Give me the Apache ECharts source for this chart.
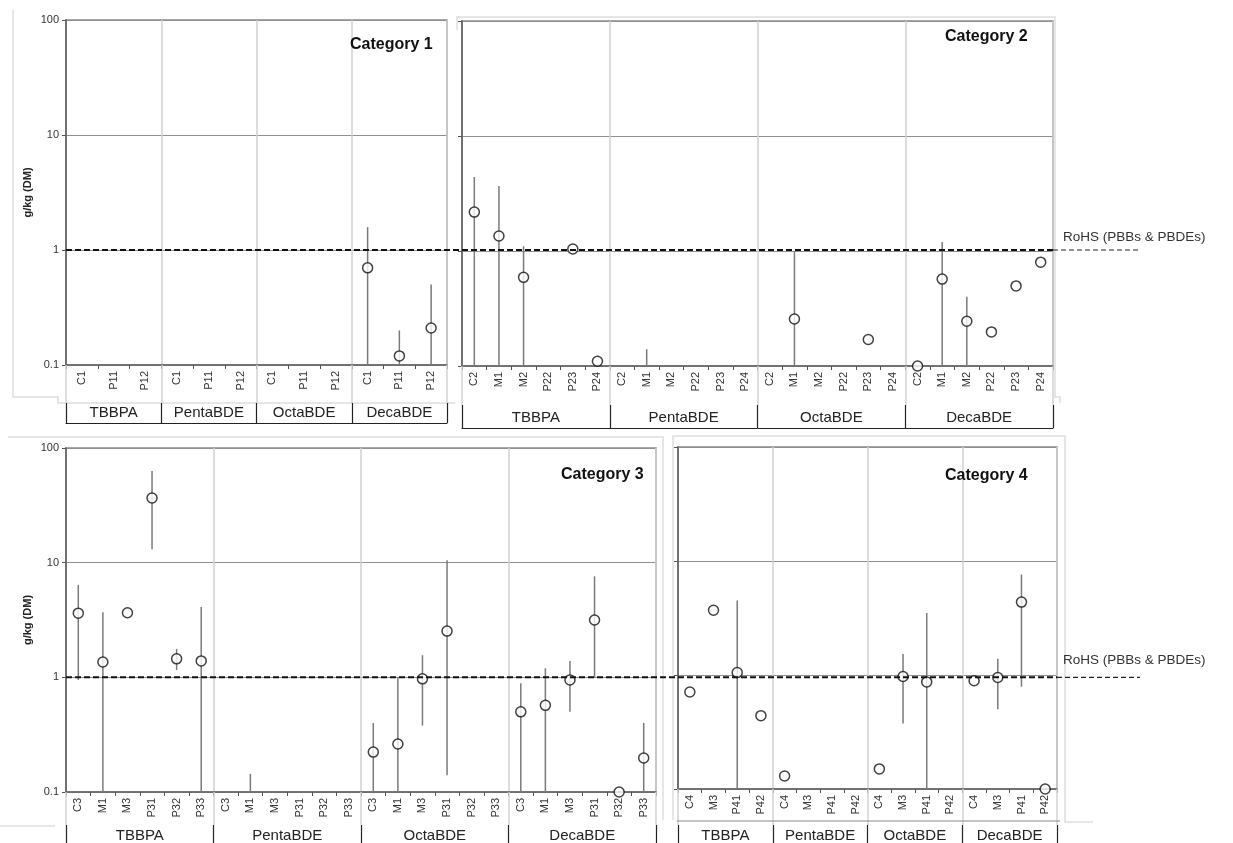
<!DOCTYPE html>
<html><head><meta charset="utf-8">
<script src="https://cdn.jsdelivr.net/npm/echarts@6/dist/echarts.min.js"></script>
<style>html,body{margin:0;padding:0;background:#fff}#c{width:1233px;height:843px}</style>
</head><body><div id="c"></div>
<script>
// ---------- DATA ----------
const groups = ['TBBPA', 'PentaBDE', 'OctaBDE', 'DecaBDE'];
const samples1 = ['C1', 'P11', 'P12'];
const samples2 = ['C2', 'M1', 'M2', 'P22', 'P23', 'P24'];
const samples3 = ['C3', 'M1', 'M3', 'P31', 'P32', 'P33'];
const samples4 = ['C4', 'M3', 'P41', 'P42'];
const rohsLimit = 1;
const rohsLabel = 'RoHS (PBBs & PBDEs)';
const yAxisName = 'g/kg (DM)';
const panelTitles = ['Category 1', 'Category 2', 'Category 3', 'Category 4'];

// Category 1 (order: TBBPA, PentaBDE, OctaBDE, DecaBDE; samples C1,P11,P12)
const cat1Values = [null, null, null, null, null, null, null, null, null, 0.70, 0.12, 0.21];
const cat1Low    = [null, null, null, null, null, null, null, null, null, 0.1, 0.1, 0.1];
const cat1High   = [null, null, null, null, null, null, null, null, null, 1.58, 0.20, 0.50];

// Category 2 (samples C2,M1,M2,P22,P23,P24)
const cat2Values = [2.18, 1.35, 0.59, null, 1.04, 0.11,
                    null, null, null, null, null, null,
                    null, 0.256, null, null, 0.17, null,
                    0.1, 0.57, 0.245, 0.198, 0.497, 0.80];
const cat2Low    = [0.1, 0.1, 0.1, null, null, null,
                    null, 0.1, null, null, null, null,
                    null, 0.1, null, null, null, null,
                    null, 0.1, 0.1, null, null, null];
const cat2High   = [4.4, 3.67, 1.1, null, null, null,
                    null, 0.14, null, null, null, null,
                    null, 1.0, null, null, null, null,
                    null, 1.2, 0.4, null, null, null];

// Category 3 (samples C3,M1,M3,P31,P32,P33)
const cat3Values = [3.63, 1.36, 3.66, 36.6, 1.45, 1.39,
                    null, null, null, null, null, null,
                    0.223, 0.262, 0.97, 2.53, null, null,
                    0.50, 0.57, 0.95, 3.16, 0.1, 0.198];
const cat3Low    = [0.95, 0.1, null, 13.1, 1.16, 0.1,
                    null, 0.1, null, null, null, null,
                    0.1, 0.1, 0.38, 0.14, null, null,
                    0.1, 0.1, 0.5, 1.0, null, 0.1];
const cat3High   = [6.4, 3.7, null, 63, 1.77, 4.1,
                    null, 0.144, null, null, null, null,
                    0.4, 1.0, 1.56, 10.5, null, null,
                    0.89, 1.2, 1.39, 7.6, null, 0.4];

// Category 4 (samples C4,M3,P41,P42)
const cat4Values = [0.71, 3.7, 1.05, 0.44,
                    0.13, null, null, null,
                    0.15, 0.97, 0.87, null,
                    0.89, 0.95, 4.36, 0.1];
const cat4Low    = [null, null, 0.1, null,
                    null, null, null, null,
                    null, 0.376, 0.1, null,
                    null, 0.5, 0.79, null];
const cat4High   = [null, null, 4.5, null,
                    null, null, null, null,
                    null, 1.53, 3.5, null,
                    null, 1.39, 7.6, null];

// ---------- LAYOUT ----------
const FONT = 'Liberation Sans, Arial, sans-serif';
const panels = [
  { samples: samples1, values: cat1Values, low: cat1Low, high: cat1High,
    grid: { left: 66, top: 20, width: 381, height: 345 }, showY: true,
    box: { offset: 58, len: 20, inside: true, line: true } },
  { samples: samples2, values: cat2Values, low: cat2Low, high: cat2High,
    grid: { left: 462, top: 21, width: 591, height: 345 }, showY: false,
    box: { offset: 62, len: 23, inside: true, line: true } },
  { samples: samples3, values: cat3Values, low: cat3Low, high: cat3High,
    grid: { left: 66, top: 448, width: 590, height: 344 }, showY: true,
    box: { offset: 33, len: 20, inside: false, line: false } },
  { samples: samples4, values: cat4Values, low: cat4Low, high: cat4High,
    grid: { left: 678, top: 447, width: 379, height: 344 }, showY: false,
    box: { offset: 36, len: 20, inside: false, line: false } }
];

const grids = [], xMain = [], xSep = [], xBox = [], yAxes = [], series = [];
panels.forEach((p, i) => {
  grids.push(Object.assign({ show: true, borderColor: '#8a8a8a', borderWidth: 1.5, containLabel: false }, p.grid));
  const cats = [];
  groups.forEach(g => p.samples.forEach(s => cats.push(g + '|' + s)));
  xMain.push({
    type: 'category', gridIndex: i, position: 'bottom', data: cats, boundaryGap: true,
    axisLine: { show: true, lineStyle: { color: '#666', width: 1.5 } },
    axisTick: { show: true, length: 4, interval: 0, lineStyle: { color: '#555', width: 1 } },
    axisLabel: { show: true, interval: 0, rotate: 90, margin: 6, fontSize: 11, color: '#333', fontFamily: FONT,
                 formatter: v => v.split('|')[1] },
    splitLine: { show: false }
  });
  const sepLen = p.box.inside ? (p.box.offset - p.box.len) : p.box.offset;
  xSep.push({
    type: 'category', gridIndex: i, position: 'bottom', data: groups, boundaryGap: true,
    axisLine: { show: false },
    axisTick: { show: true, length: sepLen, interval: 0, lineStyle: { color: '#d4d4d4', width: 1.5 } },
    axisLabel: { show: false },
    splitLine: { show: true, interval: 0, lineStyle: { color: '#d0d0d0', width: 1.5 } }
  });
  xBox.push({
    type: 'category', gridIndex: i, position: 'bottom', offset: p.box.offset, data: groups, boundaryGap: true,
    axisLine: { show: p.box.line, lineStyle: { color: '#222', width: 1 } },
    axisTick: { show: true, inside: p.box.inside, length: p.box.len, interval: 0, lineStyle: { color: '#222', width: 1.2 } },
    axisLabel: { show: true, inside: p.box.inside, interval: 0, margin: 3, fontSize: 15, color: '#222', fontFamily: FONT },
    splitLine: { show: false }
  });
  yAxes.push({
    type: 'log', logBase: 10, gridIndex: i, min: 0.1, max: 100,
    name: p.showY ? yAxisName : '', nameLocation: 'middle', nameGap: 33, nameRotate: 90,
    nameTextStyle: { fontSize: 11, fontWeight: 'bold', color: '#222', fontFamily: FONT },
    axisLine: { show: true, lineStyle: { color: '#555', width: 1.5 } },
    axisTick: { show: true, length: 4, lineStyle: { color: '#555' } },
    axisLabel: { show: p.showY, fontSize: 11, color: '#333', margin: 7, fontFamily: FONT,
                 formatter: v => String(v) },
    splitLine: { show: true, lineStyle: { color: '#8f8f8f', width: 1 } }
  });
  const errData = [], ptData = [];
  p.values.forEach((v, k) => {
    if (p.low[k] != null && p.high[k] != null) errData.push([k, p.low[k], p.high[k]]);
    if (v != null) ptData.push([k, v]);
  });
  series.push({
    type: 'custom', xAxisIndex: i, yAxisIndex: i, data: errData, z: 3, clip: false,
    encode: { x: 0, y: [1, 2] },
    renderItem: (params, api) => {
      const a = api.coord([api.value(0), api.value(1)]);
      const b = api.coord([api.value(0), api.value(2)]);
      return { type: 'line', shape: { x1: a[0], y1: a[1], x2: b[0], y2: b[1] },
               style: { stroke: '#7a7a7a', lineWidth: 1.5 } };
    }
  });
  series.push({
    type: 'scatter', xAxisIndex: i, yAxisIndex: i, data: ptData, z: 5, clip: false,
    symbol: 'circle', symbolSize: 10,
    itemStyle: { color: '#fff', borderColor: '#111', borderWidth: 1.5 }
  });
});

const chart = echarts.init(document.getElementById('c'), null, { renderer: 'canvas' });
chart.setOption({
  backgroundColor: '#fff',
  animation: false,
  grid: grids,
  xAxis: xMain.concat(xSep, xBox),
  yAxis: yAxes,
  series: series
});

// ---------- OVERLAY (threshold line, titles, frames) ----------
const yTop = chart.convertToPixel({ yAxisIndex: 0 }, rohsLimit);
const yBot = chart.convertToPixel({ yAxisIndex: 2 }, rohsLimit);
const faint = { stroke: '#dedede', lineWidth: 1.5, fill: null };
const g = [];
function poly(pts) { g.push({ type: 'polyline', silent: true, z: 0, shape: { points: pts }, style: faint }); }
poly([[13, 10], [13, 397], [58, 397], [58, 403], [455, 403]]);
poly([[457, 30], [457, 17], [1055, 17], [1055, 397], [1060, 397], [1060, 403]]);
poly([[8, 437], [663, 437], [663, 820]]);
poly([[0, 826], [55, 826]]);
poly([[673, 820], [673, 436], [1065, 436], [1065, 822], [1093, 822]]);
g.push({ type: 'line', silent: true, z: 50, shape: { x1: 677, y1: 821, x2: 1060, y2: 821 },
         style: { stroke: '#8a8a8a', lineWidth: 1.2 } });

function dash(y, xEnd) {
  g.push({ type: 'line', silent: true, z: 100, shape: { x1: 66, y1: y, x2: xEnd, y2: y },
           style: { stroke: '#111', lineWidth: 2, lineDash: [6, 3] } });
  g.push({ type: 'line', silent: true, z: 100, shape: { x1: xEnd, y1: y, x2: 1140, y2: y },
           style: { stroke: '#222', lineWidth: 1.2, lineDash: [5, 3] } });
}
dash(yTop, 1053);
dash(yBot, 1057);

function txt(t, x, y, font, color) {
  g.push({ type: 'text', silent: true, z: 100, x: x, y: y,
           style: { text: t, font: font, fill: color, textAlign: 'left', textVerticalAlign: 'middle' } });
}
txt(rohsLabel, 1063, yTop - 13, '13.5px ' + FONT, '#333');
txt(rohsLabel, 1063, yBot - 17, '13.5px ' + FONT, '#333');
txt(panelTitles[0], 350, 45, 'bold 16px ' + FONT, '#111');
txt(panelTitles[1], 945, 37, 'bold 16px ' + FONT, '#111');
txt(panelTitles[2], 561, 475, 'bold 16px ' + FONT, '#111');
txt(panelTitles[3], 945, 476, 'bold 16px ' + FONT, '#111');

chart.setOption({ graphic: g });
</script></body></html>
